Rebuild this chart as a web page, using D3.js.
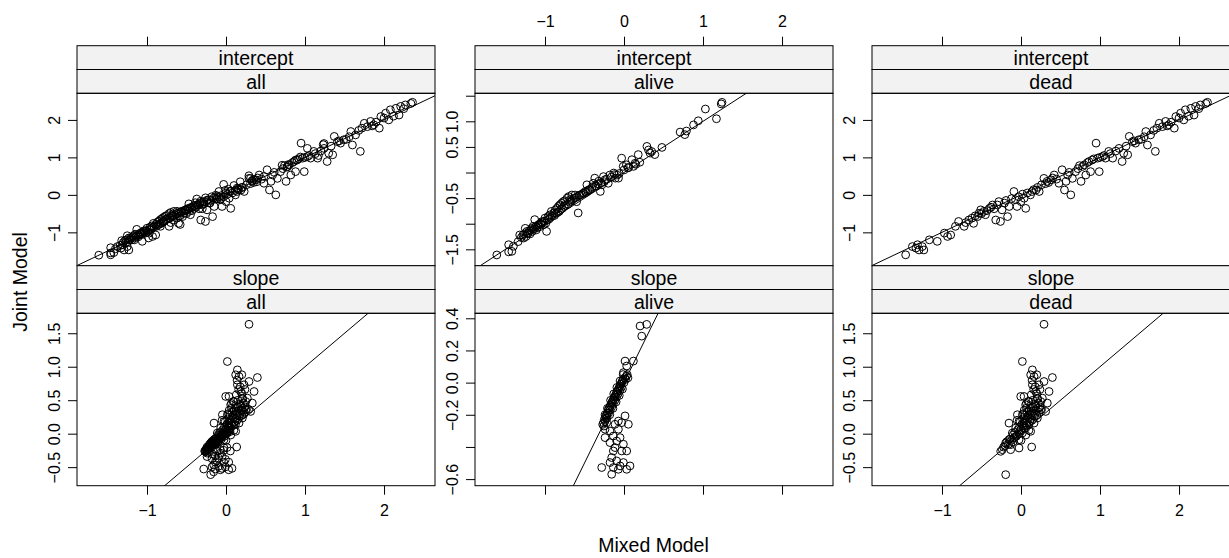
<!DOCTYPE html>
<html>
<head>
<meta charset="utf-8">
<script src="https://cdn.jsdelivr.net/npm/d3@7"></script>
<style>
  body { margin: 0; background: #fff; }
  svg { display: block; font-family: "Liberation Sans", Arial, sans-serif; }
</style>
</head>
<body>
<svg id="chart" width="1229" height="558"></svg>
<script>
// ---- data (Mixed Model on x, Joint Model on y) ----
const groups = ['all', 'alive', 'dead'];
const params = ['intercept', 'slope'];

const xDomain = [-1.886, 2.645];
const xTicks = [-1, 0, 1, 2];
const xLabels = ['\u22121', '0', '1', '2'];

// y scales are free per panel
const yDomInterceptWide = [-1.89, 2.71];
const yTicksInterceptWide = [-1, 0, 1, 2];
const yLabelsInterceptWide = ['\u22121', '0', '1', '2'];

const yDomInterceptAlive = [-1.82, 1.547];
const yTicksInterceptAlive = [-1.5, -1, -0.5, 0, 0.5, 1, 1.5];
const yLabelsInterceptAlive = ['\u22121.5', '', '\u22120.5', '', '0.5', '1.0', ''];

const yDomSlopeWide = [-0.777, 1.798];
const yTicksSlopeWide = [-0.5, 0, 0.5, 1, 1.5];
const yLabelsSlopeWide = ['\u22120.5', '0.0', '0.5', '1.0', '1.5'];

const yDomSlopeAlive = [-0.641, 0.431];
const yTicksSlopeAlive = [-0.6, -0.4, -0.2, 0, 0.2, 0.4];
const yLabelsSlopeAlive = ['\u22120.6', '', '\u22120.2', '0.0', '0.2', '0.4'];

// random intercepts, alive subjects
const aliveIntercept = [
  [-1.61,-1.61],[-1.46,-1.55],[-1.42,-1.54],[-1.40,-1.44],[-1.46,-1.41],[-1.34,-1.35],
  [-1.32,-1.22],[-1.27,-1.28],[-1.25,-1.09],[-1.23,-1.15],[-1.21,-1.18],[-1.17,-1.09],
  [-1.15,-1.05],[-1.13,-0.92],[-1.11,-1.12],[-1.08,-1.02],[-1.06,-0.99],[-1.04,-0.96],
  [-1.02,-1.02],[-1.00,-0.89],[-0.98,-1.15],[-0.96,-0.86],[-0.94,-0.83],[-0.92,-0.76],
  [-0.89,-0.79],[-0.87,-0.73],[-0.85,-0.70],[-0.83,-0.66],[-0.81,-0.63],[-0.79,-0.60],
  [-0.77,-0.57],[-0.75,-0.55],[-0.72,-0.50],[-0.70,-0.47],[-0.68,-0.53],[-0.66,-0.44],
  [-0.62,-0.44],[-0.58,-0.79],[-0.60,-0.57],[-0.56,-0.44],[-0.51,-0.40],[-0.49,-0.37],
  [-0.47,-0.24],[-0.45,-0.34],[-0.41,-0.31],[-0.39,-0.21],[-0.37,-0.11],[-0.35,-0.27],
  [-0.32,-0.17],[-0.30,-0.37],[-0.28,-0.24],[-0.26,-0.08],[-0.24,-0.14],[-0.20,-0.21],
  [-0.18,-0.05],[-0.13,-0.01],[-0.11,-0.11],[-0.09,-0.05],[-0.07,-0.11],[-0.03,0.28],
  [-0.01,0.12],[0.03,0.15],[0.05,0.09],[0.10,0.25],[0.12,0.12],[0.14,0.18],[0.18,0.35],
  [0.29,0.51],[0.31,0.44],[0.33,0.38],[0.35,0.41],[0.39,0.35],[0.48,0.49],[0.71,0.79],
  [0.77,0.74],[0.79,0.81],[0.88,0.93],[0.94,1.01],[1.03,1.24],[1.17,1.05],[1.23,1.34],
  [1.24,1.37],
  [-1.30,-1.27],[-1.28,-1.22],[-1.26,-1.20],[-1.24,-1.25],[-1.22,-1.19],[-1.20,-1.14],
  [-1.19,-1.20],[-1.18,-1.12],[-1.16,-1.15],[-1.14,-1.10],[-1.12,-1.06],[-1.10,-1.08],
  [-1.09,-1.03],[-1.07,-1.06],[-1.05,-1.01],[-1.03,-0.98],[-1.01,-0.95],[-0.99,-0.99],
  [-0.97,-0.93],[-0.95,-0.91],[-0.93,-0.88],[-0.91,-0.85],[-0.88,-0.84],[-0.86,-0.80],
  [-0.84,-0.78],[-0.82,-0.76],[-0.80,-0.72],[-0.78,-0.70],[-0.76,-0.66],[-0.74,-0.64],
  [-0.71,-0.62],[-0.69,-0.58],[-0.67,-0.56],[-0.65,-0.53],[-0.63,-0.50],[-0.61,-0.49],
  [-0.59,-0.47],[-0.57,-0.45],[-0.54,-0.43],[-0.52,-0.41],[-0.48,-0.39],[-0.46,-0.36],
  [-0.43,-0.33],[-0.40,-0.28],[-0.36,-0.26],[-0.33,-0.22],[-0.29,-0.20],[-0.25,-0.18],
  [-0.22,-0.13],[-0.16,-0.09],[-0.12,-0.04],[-0.06,-0.02],[0.00,0.05],[0.06,0.10],
  [0.15,0.16],[0.20,0.20]
];

// random intercepts, dead subjects
const deadIntercept = [
  [-1.46,-1.60],[-1.375,-1.38],[-1.33,-1.42],[-1.31,-1.33],[-1.29,-1.47],[-1.25,-1.38],
  [-1.23,-1.47],[-1.16,-1.20],[-1.06,-1.24],[-0.97,-1.02],[-0.93,-1.11],[-0.89,-1.07],
  [-0.83,-0.84],[-0.79,-0.71],[-0.72,-0.84],[-0.66,-0.67],[-0.60,-0.76],[-0.53,-0.49],
  [-0.51,-0.40],[-0.47,-0.44],[-0.45,-0.53],[-0.40,-0.36],[-0.36,-0.27],[-0.32,-0.67],
  [-0.28,-0.18],[-0.26,-0.71],[-0.24,-0.40],[-0.17,-0.58],[-0.15,-0.31],[-0.09,0.09],
  [-0.07,-0.13],[-0.05,-0.31],[0.00,-0.18],[0.04,-0.09],[0.06,-0.36],[0.12,0.00],
  [0.14,0.09],[0.19,0.13],[0.23,0.09],[0.29,0.44],[0.33,0.36],[0.38,0.40],[0.42,0.53],
  [0.48,0.31],[0.52,0.67],[0.55,0.13],[0.57,0.36],[0.59,0.53],[0.63,0.00],[0.65,0.44],
  [0.69,0.62],[0.76,0.36],[0.78,0.76],[0.82,0.53],[0.86,0.89],[0.88,0.62],[0.90,0.93],
  [0.95,1.38],[0.97,0.98],[0.99,0.62],[1.03,1.02],[1.07,0.98],[1.11,1.16],[1.16,0.98],
  [1.24,1.24],[1.28,0.89],[1.30,1.11],[1.35,1.07],[1.37,1.56],[1.41,1.42],[1.45,1.38],
  [1.49,1.47],[1.58,1.69],[1.60,1.33],[1.64,1.60],[1.70,1.16],[1.75,1.91],[1.79,1.82],
  [1.83,1.96],[1.87,1.87],[1.94,1.78],[1.96,2.09],[2.02,2.18],[2.06,2.00],[2.08,2.27],
  [2.15,2.31],[2.19,2.13],[2.21,2.36],[2.27,2.40],[2.34,2.44],[2.36,2.47],
  [-0.70,-0.74],[-0.62,-0.62],[-0.58,-0.56],[-0.55,-0.58],[-0.50,-0.50],[-0.43,-0.42],
  [-0.38,-0.33],[-0.34,-0.37],[-0.30,-0.27],[-0.21,-0.22],[-0.19,-0.15],[-0.12,-0.10],
  [-0.03,-0.05],[0.02,0.02],[0.08,0.05],[0.16,0.14],[0.21,0.20],[0.26,0.27],[0.31,0.30],
  [0.35,0.33],[0.40,0.45],[0.45,0.42],[0.61,0.60],[0.72,0.70],[0.74,0.78],[0.80,0.80],
  [0.84,0.86],[0.92,0.96],[1.00,1.00],[1.05,1.05],[1.13,1.10],[1.20,1.17],[1.33,1.30],
  [1.43,1.44],[1.52,1.48],[1.56,1.55],[1.68,1.72],[1.72,1.78],[1.85,1.84],[1.90,1.94],
  [2.00,2.05],[2.12,2.10],[2.25,2.30]
];

// random slopes, alive subjects
const aliveSlope = [
  [0.203,0.352],[0.287,0.362],[0.224,0.289],[0.013,0.134],[0.119,0.134],[0.034,0.103],
  [-0.008,0.062],
  [-0.27,-0.26],[-0.26,-0.25],[-0.255,-0.27],[-0.25,-0.23],[-0.24,-0.24],[-0.235,-0.21],
  [-0.23,-0.22],[-0.22,-0.20],[-0.215,-0.22],[-0.21,-0.19],[-0.20,-0.17],[-0.195,-0.19],
  [-0.19,-0.16],[-0.18,-0.15],[-0.175,-0.17],[-0.17,-0.14],[-0.16,-0.13],[-0.155,-0.15],
  [-0.15,-0.12],[-0.14,-0.11],[-0.135,-0.13],[-0.13,-0.10],[-0.12,-0.09],[-0.115,-0.11],
  [-0.11,-0.08],[-0.10,-0.07],[-0.095,-0.09],[-0.09,-0.06],[-0.08,-0.05],[-0.075,-0.07],
  [-0.07,-0.04],[-0.06,-0.03],[-0.055,-0.05],[-0.05,-0.02],[-0.04,-0.01],[-0.035,-0.03],
  [-0.03,0.00],[-0.02,0.01],[-0.01,0.02],[0.00,0.00],[0.01,0.03],[0.02,0.02],[0.03,0.04],
  [0.04,0.05],[0.05,0.03],
  [-0.24,-0.20],[-0.21,-0.16],[-0.17,-0.11],[-0.13,-0.07],[-0.09,-0.03],[-0.05,0.01],
  [-0.01,0.05],[-0.22,-0.25],[-0.18,-0.20],[-0.14,-0.16],[-0.10,-0.12],[-0.06,-0.08],
  [-0.02,-0.04],
  [0.013,-0.207],[0.055,-0.259],[-0.071,-0.239],[-0.029,-0.249],[-0.114,-0.259],
  [-0.240,-0.290],[-0.177,-0.301],[-0.071,-0.290],[-0.240,-0.342],[-0.135,-0.332],
  [-0.050,-0.342],[-0.093,-0.363],[-0.177,-0.373],[-0.008,-0.383],[-0.114,-0.404],
  [-0.135,-0.425],[-0.029,-0.425],[0.034,-0.425],[-0.156,-0.466],[-0.093,-0.487],
  [-0.177,-0.497],[-0.008,-0.497],[-0.282,-0.528],[-0.135,-0.528],[-0.050,-0.518],
  [0.076,-0.518],[0.034,-0.539],[-0.156,-0.570],[-0.071,-0.539]
];

// random slopes, dead subjects
const deadSlope = [
  [0.291,1.634],[0.017,1.078],[0.144,0.953],[0.122,0.879],[0.165,0.854],[0.397,0.839],
  [0.144,0.730],[0.228,0.730],[0.291,0.779],[0.355,0.630],[0.186,0.630],[-0.004,0.556],
  [0.038,0.556],[0.101,0.481],[0.207,0.531],[0.270,0.531],[0.333,0.457],[0.059,0.432],
  [0.122,0.382],[0.186,0.407],[0.249,0.357],[0.312,0.332],[-0.046,0.283],[0.017,0.283],
  [0.080,0.258],[0.144,0.283],[0.207,0.233],[-0.152,0.158],[-0.025,0.183],[0.038,0.158],
  [0.101,0.134],[0.165,0.158],[-0.067,0.084],[-0.004,0.059],[0.059,0.084],[0.122,0.035],
  [-0.110,0.010],[-0.046,-0.015],[0.017,0.010],[-0.152,-0.090],[-0.089,-0.065],
  [-0.025,-0.090],[-0.194,-0.140],[-0.131,-0.164],[-0.236,-0.239],[-0.257,-0.264],
  [-0.131,-0.239],[-0.025,-0.214],[0.135,-0.199],[-0.194,-0.612],
  [0.05,0.20],[0.08,0.32],[0.12,0.22],[0.15,0.40],[0.18,0.30],[0.10,0.05],[0.03,0.12],
  [-0.02,0.00],[-0.08,-0.05],[0.00,-0.10],[-0.10,-0.12],[0.07,0.45],[0.20,0.60],
  [0.25,0.48],[0.16,0.66],[0.12,0.28],[0.06,-0.02],[-0.05,0.20],[0.22,0.38],[0.04,0.35],
  [-0.22,-0.20],[-0.20,-0.18],[-0.18,-0.12],[-0.16,-0.16],[-0.14,-0.08],[-0.12,-0.10],
  [-0.10,-0.02],[-0.08,0.02],[-0.06,-0.04],[-0.04,0.06],[-0.02,0.10],[0.00,0.04],
  [0.01,0.14],[0.02,0.22],[0.04,0.08],[0.05,0.28],[0.06,0.16],[0.07,0.38],[0.08,0.12],
  [0.09,0.24],[0.10,0.34],[0.11,0.18],[0.12,0.42],[0.13,0.30],[0.14,0.20],[0.15,0.50],
  [0.16,0.34],[0.17,0.26],[0.18,0.44],[0.19,0.36],[0.20,0.28],[0.21,0.52],[0.22,0.46],
  [0.23,0.32],[0.24,0.40],[0.26,0.36],[0.13,0.58],[0.09,0.48],[0.03,0.30],[-0.01,0.18],
  [0.18,0.70],[0.14,0.80],[0.20,0.88],[0.24,0.66]
];

// ---- layout ----
const svg = d3.select('#chart');
const colLeft = [77, 475, 872];
const panelW = 358;
const rowTop = [45.7, 265.7];
const stripH = 23.8;
const panelH = 172.4;
const tickFont = 16;
const labFont = 19.5;

const x = d3.scaleLinear().domain(xDomain).range([0, panelW]);

const panels = [
  { r: 0, c: 0, pts: aliveIntercept.concat(deadIntercept), yd: yDomInterceptWide, yt: yTicksInterceptWide, yl: yLabelsInterceptWide },
  { r: 0, c: 1, pts: aliveIntercept, yd: yDomInterceptAlive, yt: yTicksInterceptAlive, yl: yLabelsInterceptAlive },
  { r: 0, c: 2, pts: deadIntercept, yd: yDomInterceptWide, yt: yTicksInterceptWide, yl: yLabelsInterceptWide },
  { r: 1, c: 0, pts: aliveSlope.concat(deadSlope), yd: yDomSlopeWide, yt: yTicksSlopeWide, yl: yLabelsSlopeWide },
  { r: 1, c: 1, pts: aliveSlope, yd: yDomSlopeAlive, yt: yTicksSlopeAlive, yl: yLabelsSlopeAlive },
  { r: 1, c: 2, pts: deadSlope, yd: yDomSlopeWide, yt: yTicksSlopeWide, yl: yLabelsSlopeWide }
];

function styleAxis(g) {
  g.select('.domain').remove();
  g.attr('font-size', tickFont).attr('font-family', '"Liberation Sans", Arial, sans-serif');
  g.selectAll('.tick line').attr('stroke', '#000').attr('stroke-width', 1);
  g.selectAll('.tick text').attr('fill', '#000');
}

panels.forEach((p, i) => {
  const px = colLeft[p.c];
  const stripTop = rowTop[p.r];
  const py = stripTop + 2 * stripH;
  const y = d3.scaleLinear().domain(p.yd).range([panelH, 0]);

  // strips: parameter on top, group below
  [params[p.r], groups[p.c]].forEach((label, k) => {
    const sy = stripTop + k * stripH;
    svg.append('rect')
      .attr('x', px).attr('y', sy)
      .attr('width', panelW).attr('height', stripH)
      .attr('fill', '#f2f2f2').attr('stroke', '#000').attr('stroke-width', 1);
    svg.append('text')
      .attr('x', px + panelW / 2).attr('y', sy + stripH - 4.8)
      .attr('text-anchor', 'middle')
      .attr('font-size', labFont)
      .text(label);
  });

  const g = svg.append('g').attr('transform', `translate(${px},${py})`);
  g.append('clipPath').attr('id', 'clip' + i)
    .append('rect').attr('width', panelW).attr('height', panelH);

  const plot = g.append('g').attr('clip-path', `url(#clip${i})`);
  // reference line y = x
  const lo = Math.min(xDomain[0], p.yd[0]), hi = Math.max(xDomain[1], p.yd[1]);
  plot.append('path')
    .datum([[lo, lo], [hi, hi]])
    .attr('d', d3.line().x(d => x(d[0])).y(d => y(d[1])))
    .attr('stroke', '#000').attr('stroke-width', 1).attr('fill', 'none');

  plot.selectAll('circle')
    .data(p.pts)
    .enter().append('circle')
    .attr('cx', d => x(d[0]))
    .attr('cy', d => y(d[1]))
    .attr('r', 3.9)
    .attr('fill', 'none')
    .attr('stroke', '#000')
    .attr('stroke-width', 1);

  g.append('rect')
    .attr('width', panelW).attr('height', panelH)
    .attr('fill', 'none').attr('stroke', '#000').attr('stroke-width', 1);

  // y axis, labels rotated
  const ya = g.append('g')
    .call(d3.axisLeft(y).tickValues(p.yt).tickSize(9).tickFormat((d, j) => p.yl[j]))
    .call(styleAxis);
  ya.selectAll('.tick text')
    .attr('transform', 'rotate(-90)')
    .attr('x', 0).attr('y', -17).attr('dy', null)
    .attr('text-anchor', 'middle');

  // x axes alternate: top row gets an axis above its strips, bottom row below the panel
  if (p.r === 0) {
    const showLab = p.c === 1;
    g.append('g')
      .attr('transform', `translate(0,${-2 * stripH})`)
      .call(d3.axisTop(x).tickValues(xTicks).tickSize(9).tickPadding(9.4)
        .tickFormat((d, j) => showLab ? xLabels[j] : ''))
      .call(styleAxis);
  } else {
    const showLab = p.c !== 1;
    g.append('g')
      .attr('transform', `translate(0,${panelH})`)
      .call(d3.axisBottom(x).tickValues(xTicks).tickSize(9).tickPadding(9.7)
        .tickFormat((d, j) => showLab ? xLabels[j] : ''))
      .call(styleAxis);
  }
});

// axis titles
svg.append('text')
  .attr('x', (colLeft[0] + colLeft[2] + panelW) / 2).attr('y', 551.7)
  .attr('text-anchor', 'middle').attr('font-size', labFont)
  .text('Mixed Model');

svg.append('text')
  .attr('transform', 'translate(27,282) rotate(-90)')
  .attr('text-anchor', 'middle').attr('font-size', labFont)
  .text('Joint Model');
</script>
</body>
</html>
